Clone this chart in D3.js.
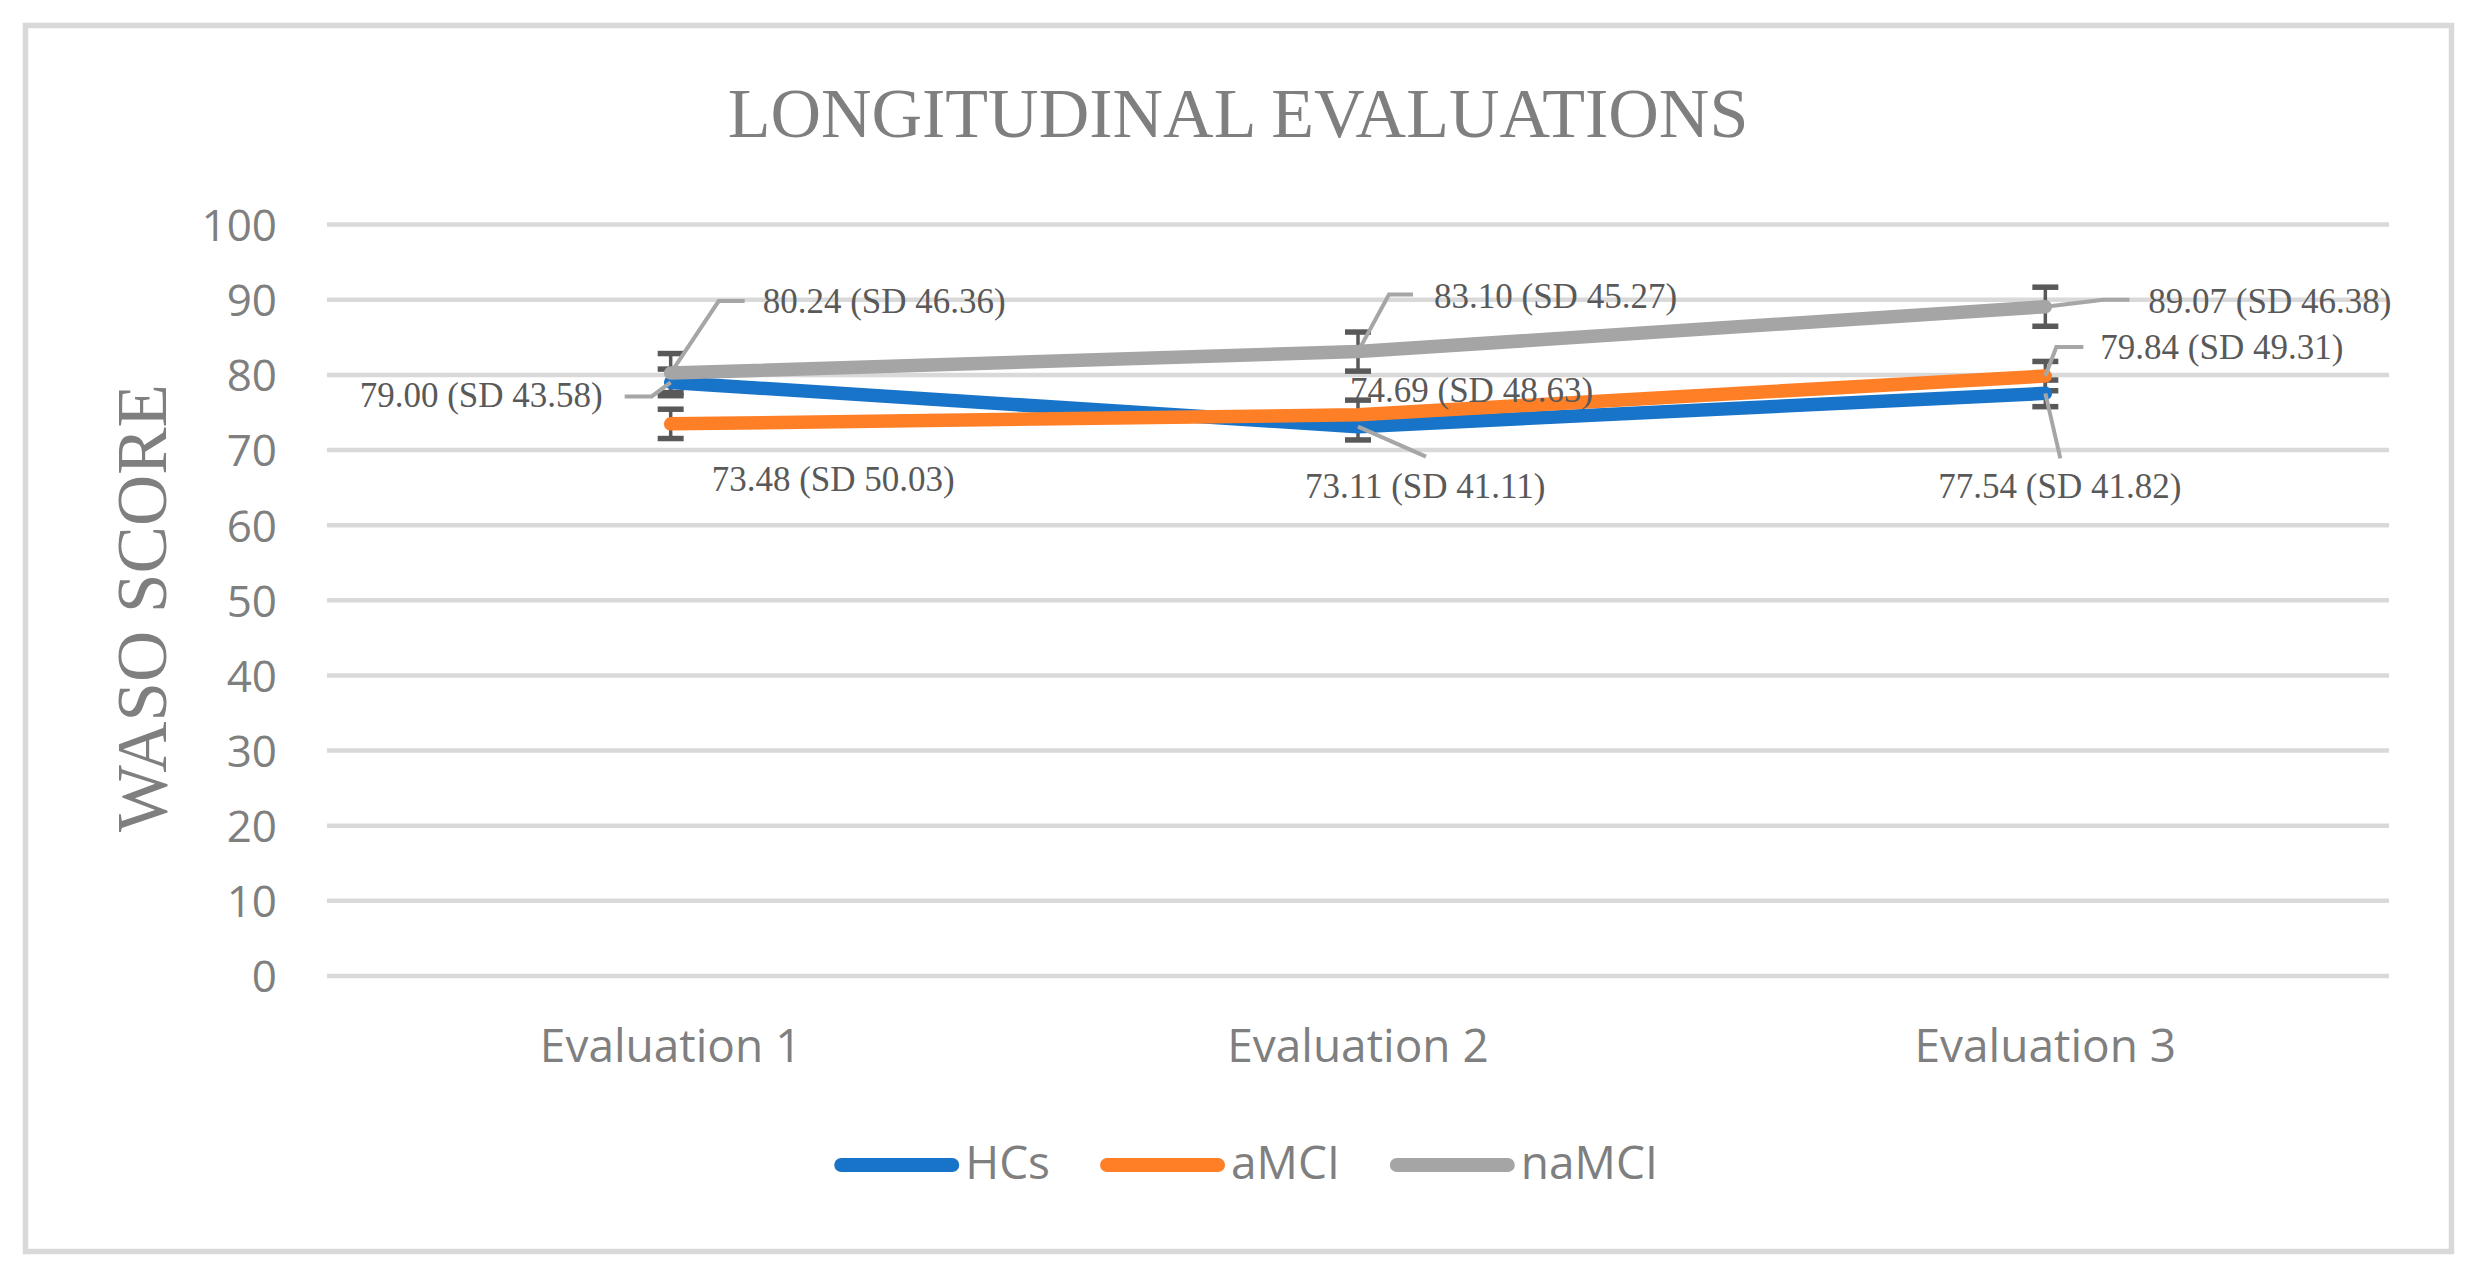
<!DOCTYPE html>
<html>
<head>
<meta charset="utf-8">
<script src="https://cdn.jsdelivr.net/npm/d3@7/dist/d3.min.js"></script>
<style>
  html, body { margin: 0; padding: 0; background: #ffffff; }
  svg { display: block; }
</style>
</head>
<body>
<svg id="chart" width="2480" height="1277"></svg>
<script>
// ---------------- DATA ----------------
const categories = ["Evaluation 1", "Evaluation 2", "Evaluation 3"];
const seriesNames = ["HCs", "aMCI", "naMCI"];
const hcsValues   = [79.00, 73.11, 77.54];
const amciValues  = [73.48, 74.69, 79.84];
const namciValues = [80.24, 83.10, 89.07];
const hcsSD   = [43.58, 41.11, 41.82];
const amciSD  = [50.03, 48.63, 49.31];
const namciSD = [46.36, 45.27, 46.38];
// error bar half-lengths (standard error of each series, as drawn)
const errorAmounts = [1.77, 1.95, 2.60];
const yTicks = [0, 10, 20, 30, 40, 50, 60, 70, 80, 90, 100];
const titleText = "LONGITUDINAL EVALUATIONS";
const yTitleText = "WASO SCORE";

// ---------------- STYLE / LAYOUT ----------------
const colors = ["#1874C9", "#FF7F27", "#A5A5A5"];
// label placement relative to its data point: [dx to text start, dy to baseline], leader points
const labelLayout = [
  [ {dx: -311, dy: 25, leader: [[-19, 14], [-46, 14]]},
    {dx: -53,  dy: 71, leader: [[68, 30]]},
    {dx: -107, dy: 105, leader: [[15, 65]]} ],
  [ {dx: 41,   dy: 67, leader: null},
    {dx: -8,   dy: -13, leader: null},
    {dx: 55,   dy: -17, leader: [[11, -29], [38, -29]]} ],
  [ {dx: 92,   dy: -60, leader: [[48, -72], [74, -72]]},
    {dx: 76,   dy: -44, leader: [[31, -57], [55, -57]]},
    {dx: 103,  dy: 6,   leader: [[58, -7], [84, -7]]} ]
];

const series = seriesNames.map((name, i) => ({
  name,
  color: colors[i],
  values: [hcsValues, amciValues, namciValues][i],
  sd: [hcsSD, amciSD, namciSD][i],
  err: errorAmounts[i],
  layout: labelLayout[i]
}));

const svg = d3.select("#chart");
const W = 2480, H = 1277;
svg.append("rect").attr("width", W).attr("height", H).attr("fill", "#ffffff");

// outer frame
svg.append("rect")
  .attr("x", 25.5).attr("y", 25.5)
  .attr("width", 2426).attr("height", 1226)
  .attr("fill", "none").attr("stroke", "#D9D9D9").attr("stroke-width", 5.5);

const plot = {left: 327, right: 2389, top: 224.6, bottom: 976};

const x = d3.scaleBand().domain(categories).range([plot.left, plot.right]).padding(0);
const cx = c => x(c) + x.bandwidth() / 2;
const y = d3.scaleLinear().domain([0, 100]).range([plot.bottom, plot.top]);

// gridlines
svg.append("g").selectAll("line").data(yTicks).join("line")
  .attr("x1", plot.left).attr("x2", plot.right)
  .attr("y1", d => y(d)).attr("y2", d => y(d))
  .attr("stroke", "#D9D9D9").attr("stroke-width", 4.5);

// y axis labels
const yAxis = d3.axisLeft(y).tickValues(yTicks).tickSize(0).tickPadding(0);
const gy = svg.append("g").attr("transform", "translate(277,0)").call(yAxis);
gy.select(".domain").remove();
gy.selectAll("text")
  .attr("font-family", "'Open Sans', sans-serif")
  .attr("font-size", 44)
  .attr("fill", "#7F7F7F")
  .attr("dy", "0.36em");

// x axis labels
const xAxis = d3.axisBottom(x).tickSize(0).tickPadding(0);
const gx = svg.append("g").attr("transform", "translate(0,1062)").call(xAxis);
gx.select(".domain").remove();
gx.selectAll("text")
  .attr("font-family", "'Open Sans', sans-serif")
  .attr("font-size", 46)
  .attr("fill", "#7F7F7F")
  .attr("dy", 0)
  .attr("y", 0);

// title
svg.append("text")
  .attr("x", 1238).attr("y", 137)
  .attr("text-anchor", "middle")
  .attr("font-family", "'Liberation Serif', 'Times New Roman', serif")
  .attr("font-size", 70)
  .attr("fill", "#7F7F7F")
  .text(titleText);

// y title
svg.append("text")
  .attr("transform", "translate(166,608) rotate(-90)")
  .attr("text-anchor", "middle")
  .attr("font-family", "'Liberation Serif', 'Times New Roman', serif")
  .attr("font-size", 71)
  .attr("fill", "#7F7F7F")
  .text(yTitleText);

// error bars
const eb = svg.append("g");
series.forEach(s => {
  s.values.forEach((v, j) => {
    const px = cx(categories[j]);
    const g = eb.append("g");
    g.append("line")
      .attr("x1", px).attr("x2", px)
      .attr("y1", y(v + s.err)).attr("y2", y(v - s.err))
      .attr("stroke", "#595959").attr("stroke-width", 3.5);
    [v + s.err, v - s.err].forEach(e => {
      g.append("line")
        .attr("x1", px - 13).attr("x2", px + 13)
        .attr("y1", y(e)).attr("y2", y(e))
        .attr("stroke", "#595959").attr("stroke-width", 5.5);
    });
  });
});

// lines
const lineGen = d3.line().x((d, j) => cx(categories[j])).y(d => y(d));
svg.append("g").selectAll("path").data(series).join("path")
  .attr("d", s => lineGen(s.values))
  .attr("fill", "none")
  .attr("stroke", s => s.color)
  .attr("stroke-width", 13.5)
  .attr("stroke-linecap", "round")
  .attr("stroke-linejoin", "round");

// leader lines
const leaders = svg.append("g");
series.forEach(s => {
  s.values.forEach((v, j) => {
    const L = s.layout[j];
    if (!L.leader) return;
    const px = cx(categories[j]), py = y(v);
    const pts = [[px, py]].concat(L.leader.map(p => [px + p[0], py + p[1]]));
    leaders.append("path")
      .attr("d", d3.line()(pts))
      .attr("fill", "none")
      .attr("stroke", "#A6A6A6")
      .attr("stroke-width", 4);
  });
});

// data labels
const labels = svg.append("g");
series.forEach(s => {
  s.values.forEach((v, j) => {
    const L = s.layout[j];
    const px = cx(categories[j]), py = y(v);
    labels.append("text")
      .attr("x", px + L.dx).attr("y", py + L.dy)
      .attr("font-family", "'Liberation Serif', 'Times New Roman', serif")
      .attr("font-size", 35)
      .attr("fill", "#595959")
      .text(v.toFixed(2) + " (SD " + s.sd[j].toFixed(2) + ")");
  });
});

// legend
const legend = svg.append("g");
const symLen = 125, symGap = 6, itemGap = 50, legY = 1165, legBase = 1179;
const items = series.map(s => {
  const g = legend.append("g");
  g.append("line")
    .attr("x1", 7).attr("x2", symLen - 7)
    .attr("y1", legY).attr("y2", legY)
    .attr("stroke", s.color).attr("stroke-width", 14)
    .attr("stroke-linecap", "round");
  const t = g.append("text")
    .attr("x", symLen + symGap).attr("y", legBase)
    .attr("font-family", "'Open Sans', sans-serif")
    .attr("font-size", 46)
    .attr("fill", "#7F7F7F")
    .text(s.name);
  return {g, w: symLen + symGap + t.node().getComputedTextLength()};
});
const totalW = d3.sum(items, d => d.w) + itemGap * (items.length - 1);
let startX = 1246 - totalW / 2;
items.forEach(it => {
  it.g.attr("transform", `translate(${startX},0)`);
  startX += it.w + itemGap;
});
</script>
</body>
</html>
